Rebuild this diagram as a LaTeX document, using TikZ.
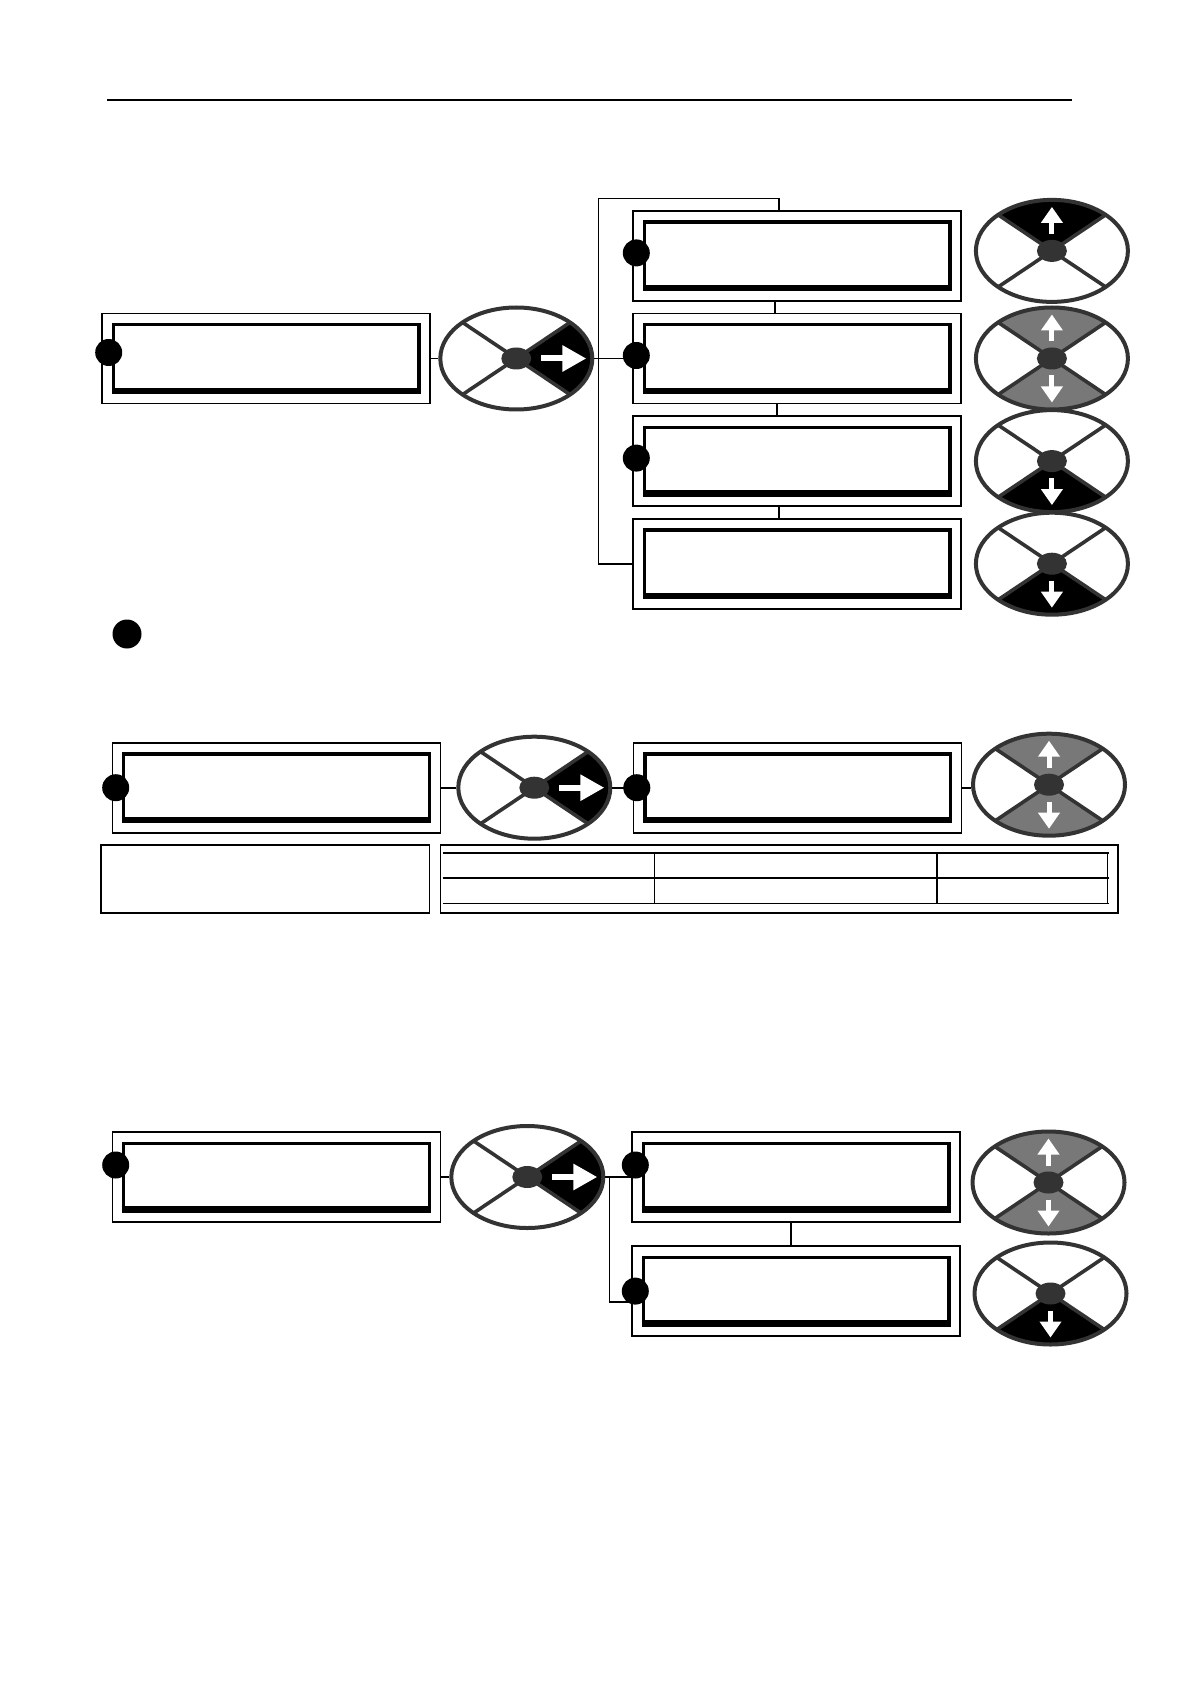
\documentclass[tikz,border=0pt]{standalone}
\usepackage{xcolor}
\usepackage{tikz}
\usetikzlibrary{positioning,arrows.meta,calc,shapes.geometric}
\definecolor{cPad}{HTML}{333333}
\definecolor{cKey}{HTML}{787878}
% one sector of a keypad: fill, then the two bounding-box corners
\newcommand{\keysector}[3]{%
  \fill[#1] (path picture bounding box.center) -- (path picture bounding box.#2)
    -- (path picture bounding box.#3) -- cycle;}
\newcommand{\keyarrowH}{%
  \draw[keyarrowh] ([shift={(12.5pt,0)}]path picture bounding box.center)
    -- ([shift={(35pt,0)}]path picture bounding box.center);}
\newcommand{\keyarrowV}[1]{%
  \draw[keyarrowv] ([shift={(#1:8.5pt)}]path picture bounding box.center)
    -- ([shift={(#1:22pt)}]path picture bounding box.center);}
\tikzset{
  wire/.style={line width=0.8pt},
  rule/.style={line width=0.8pt},
  dot/.style={circle,fill=black,minimum size=13.5pt,inner sep=0pt},
  notebox/.style={draw,line width=0.8pt,inner sep=0pt},
  keyarrowh/.style={white,line width=3pt,-{Triangle[length=12pt,width=12.5pt]}},
  keyarrowv/.style={white,line width=2.5pt,-{Triangle[length=8pt,width=10.5pt]}},
  lcd/.style={draw,line width=0.8pt,fill=white,inner sep=0pt,
              minimum width=164pt,minimum height=45pt,
              path picture={
                \draw[black,line width=1.7pt]
                  ([shift={(5.6pt,5.6pt)}]path picture bounding box.south west) rectangle
                  ([shift={(-5.6pt,-5.6pt)}]path picture bounding box.north east);
                \fill[black] ([shift={(4.75pt,4.75pt)}]path picture bounding box.south west) rectangle
                  ([shift={(-4.75pt,7.9pt)}]path picture bounding box.south east);
              }},
  pad/.style={ellipse,draw=cPad,line width=2pt,fill=white,inner sep=0pt,
              minimum width=76pt,minimum height=51pt,
              path picture={#1
                \draw[cPad,line width=1.8pt]
                  (path picture bounding box.north west) -- (path picture bounding box.south east)
                  (path picture bounding box.south west) -- (path picture bounding box.north east);
                \fill[cPad] (path picture bounding box.center) ellipse [x radius=7.5pt,y radius=5.5pt];
              }},
  pad/.default={},
  padright/.style={pad={\keysector{black}{north east}{south east}\keyarrowH}},
  padup/.style={pad={\keysector{black}{north west}{north east}\keyarrowV{90}}},
  paddown/.style={pad={\keysector{black}{south west}{south east}\keyarrowV{-90}}},
  padboth/.style={pad={\keysector{cKey}{north west}{north east}\keysector{cKey}{south west}{south east}%
                       \keyarrowV{90}\keyarrowV{-90}}},
}

\begin{document}
\begin{tikzpicture}[x=0.5pt,y=-0.5pt]
  \useasboundingbox (0,0) rectangle (1190,1684);
  \draw[rule] (107,100) -- (1072,100);

  % menu with four entries
  \node[lcd] (L1) at (266,358.5) {};
  \node[padright,right=3.75pt of L1] (E1) {};
  \node[lcd,right=19pt of E1] (R2) {};
  \node[lcd,above=5.5pt of R2] (R1) {};
  \node[lcd,below=5.5pt of R2] (R3) {};
  \node[lcd,below=5.5pt of R3] (R4) {};
  \node[padup,right=6pt of R1,yshift=2.5pt] (P1) {};
  \node[padboth,right=6pt of R2] (P2) {};
  \node[paddown,right=6pt of R3] (P3) {};
  \node[paddown,right=6pt of R4] (P4) {};
  \coordinate (k1) at ($(E1.east)+(2pt,0)$);
  \coordinate (k1top) at ($(k1 |- R1.north)+(0,5.8pt)$);
  \coordinate (k1end) at ($(R1.north)+(-9pt,0)$);
  \draw[wire] (L1.east) -- (E1.west);
  \draw[wire] (E1.east) -- (E1.east -| R2.west);
  \draw[wire] (R4.west) -| (k1top) -| (k1end);
  \draw[wire] ([xshift=-11pt]R1.south) -- ([xshift=-11pt]R2.north);
  \draw[wire] ([xshift=-10pt]R2.south) -- ([xshift=-10pt]R3.north);
  \draw[wire] ([xshift=-9pt]R3.south) -- ([xshift=-9pt]R4.north);
  \node[dot] (L1d) at ([xshift=3.75pt,yshift=3pt]L1.west) {};
  \node[dot] (R1d) at ([xshift=2pt,yshift=1.5pt]R1.west) {};
  \node[dot] (R2d) at ([xshift=2pt,yshift=1.5pt]R2.west) {};
  \node[dot] (R3d) at ([xshift=2pt,yshift=1.5pt]R3.west) {};
  \node[dot,minimum size=14.5pt] (fn) at (127,634) {};

  % single entry with its table
  \node[lcd] (L2) at (276.5,787.7) {};
  \node[padright,right=7.5pt of L2] (E2) {};
  \node[lcd,right=10.25pt of E2] (R5) {};
  \node[padboth,right=4.3pt of R5,yshift=1.5pt] (P5) {};
  \draw[wire] (L2.east) -- (E2.west);
  \draw[wire] (E2.east) -- (R5.west);
  \draw[wire] (R5.east) -- (R5.east -| P5.west);
  \node[dot] (L2d) at ([xshift=2pt]L2.west) {};
  \node[dot] (R5d) at ([xshift=2pt]R5.west) {};
  \node[notebox,minimum width=164.3pt,minimum height=33.9pt] (N1) at (265.3,879.1) {};
  \node[notebox,minimum width=338.9pt,minimum height=33.9pt] (T1) at (779.2,879.1) {};
  \foreach \r in {4.3pt,16.65pt,29.55pt}
    \draw[rule] ($(T1.north west)+(1.65pt,-\r)$) -- ($(T1.north east)+(-4.8pt,-\r)$);
  \foreach \c in {107.4pt,248.65pt,334pt}
    \draw[rule] ($(T1.north west)+(\c,-4.3pt)$) -- ($(T1.north west)+(\c,-29.55pt)$);

  % menu with two entries
  \node[lcd] (L3) at (276.5,1177) {};
  \node[padright,right=4pt of L3] (E4) {};
  \node[lcd,right=13pt of E4] (R6) {};
  \node[lcd,below=11.25pt of R6] (R7) {};
  \node[padboth,right=4.8pt of R6,yshift=-2.75pt] (P6) {};
  \node[paddown,right=5.8pt of R7,yshift=-1.2pt] (P7) {};
  \coordinate (k3) at ($(E4.east)+(2pt,0)$);
  \draw[wire] (L3.east) -- (E4.west);
  \draw[wire] (E4.east) -- (E4.east -| R6.west);
  \draw[wire] (k3) |- ([yshift=-5.5pt]R7.west);
  \draw[wire] ([xshift=-2.5pt]R6.south) -- ([xshift=-2.5pt]R7.north);
  \node[dot] (L3d) at ([xshift=2pt,yshift=6pt]L3.west) {};
  \node[dot] (R6d) at ([xshift=2pt,yshift=6pt]R6.west) {};
  \node[dot] (R7d) at ([xshift=2pt]R7.west) {};
\end{tikzpicture}
\end{document}
